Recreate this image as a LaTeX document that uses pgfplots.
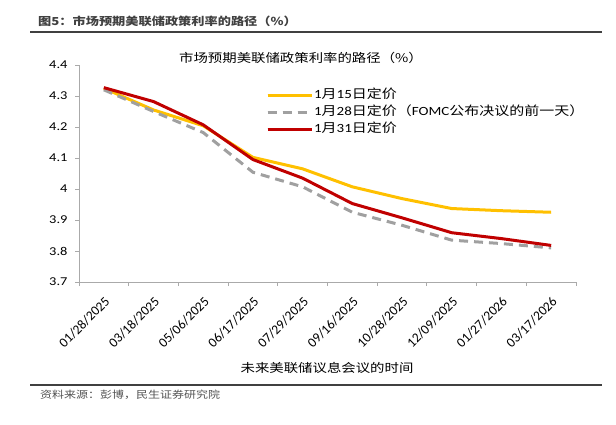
\documentclass[border=0pt]{standalone}
\usepackage{pgfplots}
\pgfplotsset{compat=1.18}
\usepackage{fontspec}
\setmainfont[FakeStretch=1.2]{Carlito}
\newfontfamily\plain{Carlito}
\newfontfamily\cjk[FakeStretch=1.2]{Noto Sans CJK SC}
\newcommand\zh[1]{{\cjk #1}}
\definecolor{cyellow}{RGB}{255,192,0}
\definecolor{cgray}{RGB}{160,160,160}
\definecolor{cred}{RGB}{192,0,0}
\definecolor{axgray}{RGB}{170,170,170}
\definecolor{ttl}{RGB}{64,64,64}

\begin{document}
\begin{tikzpicture}
\path[use as bounding box] (0pt,0pt) rectangle (616pt,-424pt);
% header and footer
\node[anchor=west, inner sep=0, text=ttl, font=\cjk\bfseries\fontsize{11}{14}\selectfont] at (38pt,-21pt) {图5：市场预期美联储政策利率的路径（\%）};
\draw[ttl, line width=1.3pt] (30pt,-32pt) -- (602pt,-32pt);
\draw[ttl, line width=1.3pt] (30pt,-385pt) -- (602pt,-385pt);
\node[anchor=west, inner sep=0, text=ttl!90, font=\cjk\fontsize{10}{12}\selectfont] at (40pt,-395pt) {资料来源：彭博，民生证券研究院};
% chart texts
\node[inner sep=0, font=\cjk\fontsize{12}{14}\selectfont] at (301pt,-58pt) {市场预期美联储政策利率的路径（\%）};
\node[inner sep=0, font=\cjk\fontsize{12}{14}\selectfont] at (327pt,-368pt) {未来美联储议息会议的时间};

\begin{axis}[
    at={(79pt,-282pt)}, anchor=south west,
    scale only axis, width=497pt, height=217pt,
    xmin=-0.5, xmax=9.5,
    ymin=3.7, ymax=4.4,
    ytick={3.7,3.8,3.9,4,4.1,4.2,4.3,4.4},
    xtick={-0.5,0.5,1.5,2.5,3.5,4.5,5.5,6.5,7.5,8.5,9.5},
    xticklabels={},
    extra x ticks={0,1,2,3,4,5,6,7,8,9},
    extra x tick labels={01/28/2025,03/18/2025,05/06/2025,06/17/2025,07/29/2025,09/16/2025,10/28/2025,12/09/2025,01/27/2026,03/17/2026},
    extra x tick style={tick style={draw=none}},
    axis x line*=bottom, axis y line*=left,
    axis line style={axgray, line width=0.8pt},
    tick style={axgray, line width=0.8pt},
    tick align=outside, major tick length=4pt,
    /pgf/number format/assume math mode=true,
    ticklabel style={font=\fontsize{12}{14}\selectfont, text=black},
    yticklabel style={xshift=-4pt},
    xticklabel shift=8pt,
    xticklabel style={rotate=45, anchor=north east, inner sep=1pt, font=\plain\fontsize{13.5}{15}\selectfont},
    legend style={at={(0.376,0.90)}, anchor=north west, draw=none, fill=none,
        font=\fontsize{12.5}{15}\selectfont, row sep=0pt, inner sep=0pt,
        nodes={text height=11pt, text depth=4pt, inner sep=1pt}},
    legend cell align=left,
    legend image code/.code={\draw[#1] (0pt,0pt) -- (32pt,0pt); \path (0pt,0pt) -- (44pt,0pt);},
    clip=false,
]
\addplot[cyellow, line width=3pt, line join=round] coordinates {
    (0,4.325)(1,4.255)(2,4.204)(3,4.102)(4,4.065)(5,4.007)(6,3.969)(7,3.937)(8,3.930)(9,3.925)
};
\addlegendentry{1\zh{月}15\zh{日定价}}
\addplot[cgray, line width=3pt, line join=round, dash pattern=on 9pt off 6pt] coordinates {
    (0,4.320)(1,4.250)(2,4.182)(3,4.054)(4,4.007)(5,3.925)(6,3.883)(7,3.835)(8,3.824)(9,3.810)
};
\addlegendentry{1\zh{月}28\zh{日定价（}FOMC\zh{公布决议的前一天）}}
\addplot[cred, line width=3pt, line join=round] coordinates {
    (0,4.327)(1,4.282)(2,4.207)(3,4.095)(4,4.035)(5,3.953)(6,3.907)(7,3.859)(8,3.840)(9,3.818)
};
\addlegendentry{1\zh{月}31\zh{日定价}}
\end{axis}
\end{tikzpicture}
\end{document}
